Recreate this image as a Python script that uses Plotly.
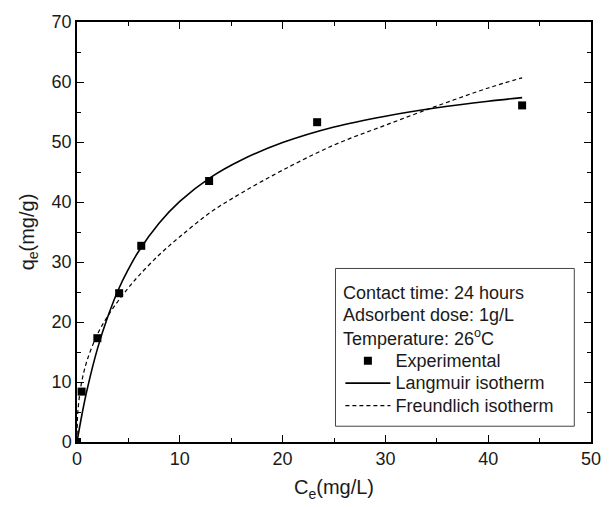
import plotly.graph_objects as go

# Experimental data
ce_exp = [0.0, 0.45, 1.98, 4.1, 6.25, 12.85, 23.36, 43.3]
qe_exp = [0.0, 8.4, 17.3, 24.8, 32.7, 43.5, 53.3, 56.1]

# Langmuir curve
ce_lang = [0, 0.5, 1, 2, 3, 4, 5, 6, 8, 10, 13, 16, 20, 25, 30, 35, 40, 43.3]
qe_lang = [0, 4.75, 8.86, 15.6, 20.9, 25.3, 28.8, 31.8, 36.5, 40.1, 44.1, 47.0, 49.9, 52.5, 54.3, 55.7, 56.8, 57.4]

# Freundlich curve
ce_freu = [0, 0.05, 0.1, 0.25, 0.5, 1, 2, 3, 4, 5, 6, 8, 10, 13, 16, 20, 25, 30, 35, 40, 43.3]
qe_freu = [0, 4.1, 5.4, 7.8, 10.4, 13.7, 18.0, 21.0, 23.5, 25.7, 27.7, 31.2, 34.2, 38.3, 41.5, 45.3, 49.5, 52.8, 56.0, 59.0, 60.7]

info_lines = ["Contact time: 24 hours", "Adsorbent dose: 1g/L", "Temperature: 26<sup>o</sup>C"]
series_names = ["Experimental", "Langmuir isotherm", "Freundlich isotherm"]

FONT = "Liberation Sans, Arial, sans-serif"
TXT = "#1a1a1a"

def big(s):
    return '<span style="font-size:18px">' + s + '</span>'

fig = go.Figure()
fig.add_trace(go.Scatter(x=ce_exp, y=qe_exp, mode="markers", name=big(series_names[0]),
                         marker=dict(symbol="square", size=8, color="black")))
fig.add_trace(go.Scatter(x=ce_lang, y=qe_lang, mode="lines", name=big(series_names[1]),
                         line=dict(color="black", width=1.6, shape="spline")))
fig.add_trace(go.Scatter(x=ce_freu, y=qe_freu, mode="lines", name=big(series_names[2]),
                         line=dict(color="black", width=1.2, dash="4px,3px", shape="spline")))

axis_common = dict(showline=True, linecolor="black", linewidth=1.5, mirror="ticks",
                   ticks="inside", ticklen=7, tickwidth=1.3, tickcolor="black",
                   showgrid=False, zeroline=False,
                   tickfont=dict(size=18, color=TXT, family=FONT))

fig.update_xaxes(range=[0, 50], dtick=10,
                 minor=dict(ticks="inside", ticklen=4, dtick=5, tickcolor="black", tickwidth=1.2),
                 title=dict(text="C<sub>e</sub>(mg/L)", font=dict(size=20, color=TXT, family=FONT), standoff=12),
                 **axis_common)
fig.update_yaxes(range=[0, 70], dtick=10,
                 minor=dict(ticks="inside", ticklen=4, dtick=5, tickcolor="black", tickwidth=1.2),
                 title=dict(text="q<sub>e</sub>(mg/g)", font=dict(size=20, color=TXT, family=FONT), standoff=12),
                 **axis_common)

# Legend box geometry in pixels relative to plot area
W, H = 613, 507
L, R, T, B = 77, 13, 17, 64
pw, ph = W - L - R, H - T - B

def px_x(p):
    return (p - L) / pw

def px_y(p):
    return 1 - (p - T) / ph

fig.add_shape(type="rect", xref="paper", yref="paper",
              x0=px_x(340), x1=px_x(583), y0=px_y(427), y1=px_y(267),
              line=dict(color="#444", width=1), fillcolor="rgba(0,0,0,0)")

for txt, yc in zip(info_lines, [292, 314, 337]):
    fig.add_annotation(text=txt, xref="paper", yref="paper", x=px_x(346), y=px_y(yc),
                       xanchor="left", yanchor="middle", showarrow=False,
                       font=dict(size=18, color=TXT, family=FONT))

fig.update_layout(
    width=W, height=H,
    margin=dict(l=L, r=R, t=T, b=B),
    plot_bgcolor="white", paper_bgcolor="white",
    font=dict(family=FONT, color=TXT),
    legend=dict(x=px_x(345), y=px_y(344), xanchor="left", yanchor="top",
                bgcolor="rgba(0,0,0,0)", borderwidth=0, tracegroupgap=0,
                itemwidth=45, font=dict(size=15, color=TXT, family=FONT)),
)

fig.write_html("out.html")
